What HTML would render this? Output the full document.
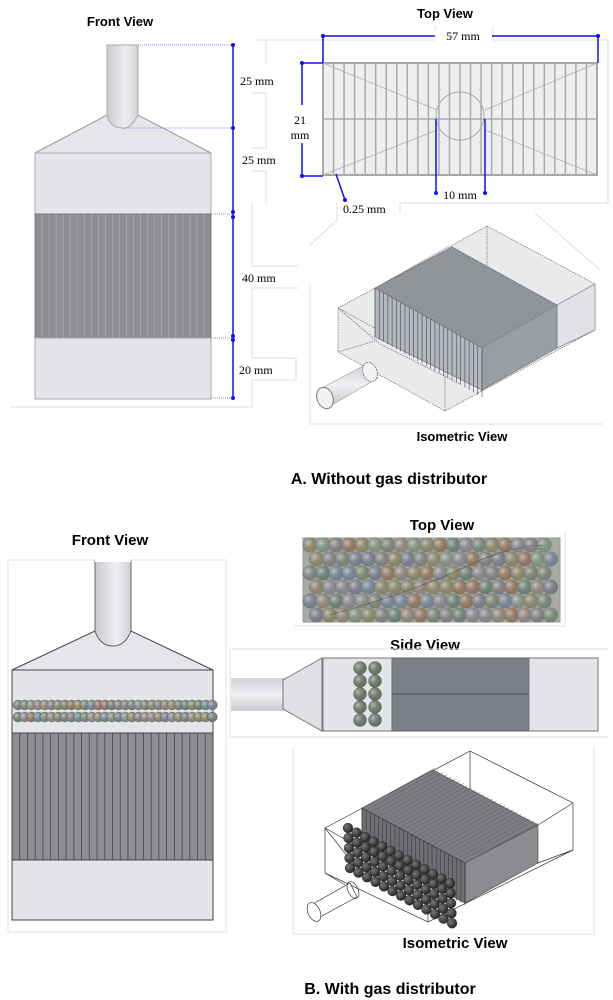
<!DOCTYPE html>
<html><head><meta charset="utf-8">
<style>
html,body{margin:0;padding:0;background:#fff;}
svg{display:block;}
text{font-family:"Liberation Sans",Arial,sans-serif;}
.t{font-weight:bold;font-size:13px;fill:#000;}
.m{font-family:"Liberation Serif",serif;font-size:12px;fill:#000;}
</style></head>
<body>
<svg id="s" width="613" height="1000" viewBox="0 0 613 1000" xmlns="http://www.w3.org/2000/svg">
<defs>
<linearGradient id="pipe" x1="0" x2="1" y1="0" y2="0">
<stop offset="0" stop-color="#c9cbcf"/><stop offset="0.6" stop-color="#eceef1"/><stop offset="1" stop-color="#cfd1d5"/></linearGradient>
<linearGradient id="pipeh" x1="0" x2="0" y1="0" y2="1">
<stop offset="0" stop-color="#d0d2d6"/><stop offset="0.5" stop-color="#eef0f2"/><stop offset="1" stop-color="#c8cacd"/></linearGradient>
<radialGradient id="ball" cx="0.35" cy="0.35" r="0.7"><stop offset="0" stop-color="#ddd" stop-opacity="0.6"/><stop offset="1" stop-color="#000" stop-opacity="0.15"/></radialGradient>
<radialGradient id="dball" cx="0.35" cy="0.35" r="0.7"><stop offset="0" stop-color="#777"/><stop offset="1" stop-color="#222"/></radialGradient>
</defs>

<!-- ===== A Front View ===== -->
<text class="t" x="120" y="26" text-anchor="middle">Front View</text>
<polyline points="255,40 266,40 266,64" fill="none" stroke="#ddd"/>
<polyline points="252,93 266,93 266,148 252,148" fill="none" stroke="#ddd"/>
<polyline points="252,171 266,171 266,203" fill="none" stroke="#ddd"/>
<polyline points="252,203 252,266 298,266" fill="none" stroke="#ddd"/>
<polyline points="298,288 252,288 252,358 296,358 296,380 252,380 252,407 10,407" fill="none" stroke="#ddd"/>
<path d="M35,153 L107,115 L138,115 L211,153 Z" fill="#e4e6ea" stroke="#999"/>
<rect x="35" y="153" width="176" height="61" fill="#e3e5e9" stroke="#aaa"/>
<rect x="35" y="214" width="176" height="124" fill="#8c8e91" stroke="#777"/>
<g id="finsA"></g>
<rect x="35" y="338" width="176" height="61" fill="#e3e5e9" stroke="#aaa"/>
<path d="M107,45 L138,45 L138,115 Q130,130 122,128 Q110,128 107,115 Z" fill="url(#pipe)" stroke="#aaa"/>
<g stroke="#6a6aff" stroke-dasharray="1,1" stroke-width="0.8">
<line x1="138" y1="45" x2="233" y2="45"/><line x1="124" y1="128" x2="233" y2="128"/>
<line x1="211" y1="214" x2="233" y2="214"/><line x1="211" y1="338" x2="233" y2="338"/><line x1="211" y1="398" x2="233" y2="398"/></g>
<line x1="233" y1="45" x2="233" y2="398" stroke="#1010ee" stroke-width="1.5"/>
<g fill="#1010ee"><circle cx="233" cy="45" r="2"/><circle cx="233" cy="128" r="2"/><circle cx="233" cy="212" r="2"/><circle cx="233" cy="217" r="2"/><circle cx="233" cy="336" r="2"/><circle cx="233" cy="340" r="2"/><circle cx="233" cy="398" r="2"/></g>
<text class="m" x="240" y="85">25 mm</text>
<text class="m" x="242" y="164">25 mm</text>
<text class="m" x="242" y="282">40 mm</text>
<text class="m" x="239" y="374">20 mm</text>

<!-- ===== A Top View ===== -->
<text class="t" x="445" y="18" text-anchor="middle">Top View</text>
<polyline points="435,26 435,31" fill="none" stroke="#ddd"/>
<polyline points="266,40 435,40" fill="none" stroke="#ddd"/>
<polyline points="493,26 493,40 608,40 608,203 400,203 400,213" fill="none" stroke="#ddd"/>
<polyline points="337,203 337,220 310,245" fill="none" stroke="#ddd"/>
<line x1="535" y1="213" x2="600" y2="270" stroke="#ddd"/>
<rect x="323" y="63" width="274" height="112" fill="#eceef0" stroke="#a8a8a8" stroke-width="2"/>
<g id="gridA"></g>
<line x1="323" y1="119" x2="597" y2="119" stroke="#a8a8a8" stroke-width="1.5"/>
<g stroke="#aaa" stroke-width="0.7"><line x1="323" y1="63" x2="437" y2="110"/><line x1="323" y1="175" x2="437" y2="130"/><line x1="597" y1="63" x2="485" y2="110"/><line x1="597" y1="175" x2="485" y2="130"/></g>
<circle cx="460" cy="116" r="24" fill="none" stroke="#aaa"/>
<g stroke="#1010ee" stroke-width="1.5" fill="none">
<polyline points="323,63 323,36 435,36"/><polyline points="492,36 598,36 598,63"/>
<polyline points="323,63 302,63 302,105"/><polyline points="302,143 302,176 323,176"/>
<line x1="436" y1="119" x2="436" y2="193"/><line x1="485" y1="119" x2="485" y2="193"/>
<line x1="336" y1="174" x2="345" y2="200"/></g>
<g fill="#1010ee"><circle cx="323" cy="36" r="2"/><circle cx="598" cy="36" r="2"/><circle cx="302" cy="63" r="2"/><circle cx="302" cy="176" r="2"/><circle cx="436" cy="193" r="2"/><circle cx="485" cy="193" r="2"/><circle cx="345" cy="200" r="2"/></g>
<text class="m" x="463" y="40" text-anchor="middle">57 mm</text>
<text class="m" x="300" y="124" text-anchor="middle">21</text>
<text class="m" x="300" y="139" text-anchor="middle">mm</text>
<text class="m" x="460" y="199" text-anchor="middle">10 mm</text>
<text class="m" x="343" y="213">0.25 mm</text>

<!-- ===== A Isometric ===== -->
<polyline points="310,285 310,424 603,424" fill="none" stroke="#ddd"/>
<g stroke="#555" stroke-width="0.6" stroke-dasharray="1.5,1">
<path d="M338,308 L375,288 L487,226 L595,284 L595,330 L445,411 L338,352 Z" fill="#e9eaec"/>
<path d="M487,226 L487,269 M557,305 L595,284 M557,348 L595,330 M338,308 L445,366 L445,411 M338,352 L375,341 M338,308 L380,344 L460,384" fill="none"/>
</g>
<path d="M557,305 L595,284 L595,330 L557,348 Z" fill="#e1e2e5" stroke="#777" stroke-width="0.6"/>
<path d="M375,288 L452,247 L557,305 L482,348 Z" fill="#8f9298" stroke="#666" stroke-width="0.6"/>
<path d="M375,288 L482,348 L482,390 L375,337 Z" fill="#b4b7bc" stroke="#666" stroke-width="0.6"/>
<path d="M482,348 L557,305 L557,348 L482,390 Z" fill="#9a9da2" stroke="#666" stroke-width="0.6"/>
<g id="finsIsoA"></g>
<path d="M318,390 L365,365 L378,378 L332,405 Z" fill="url(#pipeh)" stroke="#999" stroke-width="0.6"/>
<ellipse cx="325" cy="398" rx="8" ry="11" transform="rotate(-20 325 398)" fill="#eef0f2" stroke="#777"/>
<ellipse cx="370" cy="372" rx="7" ry="10" transform="rotate(-20 370 372)" fill="#f2f3f5" stroke="#777" stroke-dasharray="1.5,1"/>
<text class="t" x="462" y="441" text-anchor="middle">Isometric View</text>

<text x="389" y="484" text-anchor="middle" font-weight="bold" font-size="16">A.  Without gas distributor</text>

<!-- ===== B Front View ===== -->
<text x="110" y="545" text-anchor="middle" font-weight="bold" font-size="15">Front View</text>
<rect x="8" y="560" width="218" height="372" fill="none" stroke="#e2e2e2"/>
<path d="M12,670 L95,631 L131,631 L213,670 Z" fill="#e4e6ea" stroke="#444"/>
<rect x="12" y="670" width="201" height="63" fill="#e3e5e9" stroke="#444"/>
<rect x="12" y="733" width="201" height="127" fill="#8c8e91" stroke="#444"/>
<g id="finsB"></g>
<rect x="12" y="860" width="201" height="60" fill="#e3e5e9" stroke="#444"/>
<path d="M95,560 L131,560 L131,631 Q125,646 113,646 Q100,646 95,631 Z" fill="url(#pipe)" stroke="#444" stroke-width="0.8"/>
<rect x="95" y="559" width="36" height="3" fill="#fff"/>
<g id="rowsB"></g>

<!-- ===== B Top View ===== -->
<text x="442" y="530" text-anchor="middle" font-weight="bold" font-size="15">Top View</text>
<polyline points="294,626 565,626 565,533" fill="none" stroke="#e2e2e2"/>
<rect x="303" y="538" width="257" height="84" fill="#a8aaa4" stroke="#999"/>
<g id="ballsB"></g>

<!-- ===== B Side View ===== -->
<text x="425" y="650" text-anchor="middle" font-weight="bold" font-size="15">Side View</text>
<polyline points="608,649 230,649 230,737 608,737" fill="none" stroke="#e2e2e2"/>
<rect x="231" y="678" width="54" height="33" fill="url(#pipeh)"/>
<path d="M322,658 L283,680 L283,709 L322,731 Z" fill="#dfe0e3" stroke="#777"/>
<rect x="323" y="658" width="69" height="73" fill="#e3e5e9" stroke="#777"/>
<rect x="392" y="658" width="137" height="73" fill="#7b8088" stroke="#666"/>
<line x1="392" y1="694" x2="529" y2="694" stroke="#555"/>
<rect x="529" y="658" width="69" height="73" fill="#e3e5e9" stroke="#777"/>
<g id="colsB"></g>

<!-- ===== B Isometric ===== -->
<polyline points="293,748 293,934 594,934 594,748" fill="none" stroke="#e2e2e2"/>
<g stroke="#333" stroke-width="0.7" fill="none">
<path d="M325,828 L470,751 L573,803 L573,850 L428,922 L325,873 Z" fill="#fff"/>
<path d="M325,828 L428,886 L428,922 M470,751 L470,796 M538,825 L573,803 M538,863 L573,850 M325,873 L345,885 M325,828 L355,866 L445,905"/>
</g>
<path d="M362,808 L433,770 L538,825 L465,863 Z" fill="#7c7e82" stroke="#444" stroke-width="0.6"/>
<path d="M465,863 L538,825 L538,863 L465,903 Z" fill="#8a8c90" stroke="#444" stroke-width="0.6"/>
<path d="M362,808 L465,863 L465,903 L362,850 Z" fill="#6c6e72" stroke="#333" stroke-width="0.6"/>
<g id="isoB"></g>
<path d="M311,905 L350,883 L357,897 L318,918 Z" fill="#fff" stroke="#333" stroke-width="0.7"/>
<ellipse cx="314" cy="912" rx="6" ry="10" transform="rotate(-25 314 912)" fill="#fff" stroke="#333" stroke-width="0.7"/>
<ellipse cx="353" cy="890" rx="5" ry="9" transform="rotate(-25 353 890)" fill="none" stroke="#333" stroke-width="0.7"/>
<text x="455" y="948" text-anchor="middle" font-weight="bold" font-size="15">Isometric View</text>

<text x="390" y="994" text-anchor="middle" font-weight="bold" font-size="16">B.  With gas distributor</text>
</svg>
<script>
var NS="http://www.w3.org/2000/svg";
function el(p,t,a){var e=document.createElementNS(NS,t);for(var k in a)e.setAttribute(k,a[k]);document.getElementById(p).appendChild(e);return e;}
for(var i=1;i<25;i++){var x=35+i*176/25;el("finsA","line",{x1:x,y1:214,x2:x,y2:338,stroke:"#a9abae","stroke-width":0.8});}
for(var i=1;i<26;i++){var x=12+i*201/26;el("finsB","line",{x1:x,y1:733,x2:x,y2:860,stroke:"#444","stroke-width":0.8});}
for(var i=1;i<26;i++){var x=323+i*274/26;el("gridA","line",{x1:x,y1:63,x2:x,y2:175,stroke:"#aaa","stroke-width":1.5});}
for(var i=0;i<26;i++){var t=i/25;var x1=375+t*107,y1=288+t*60;el("finsIsoA","line",{x1:x1,y1:y1,x2:x1,y2:y1+49,stroke:"#556","stroke-width":0.7});el("finsIsoA","line",{x1:x1,y1:y1,x2:x1+75,y2:y1-43,stroke:"#a0a3a8","stroke-width":0.4});}
var cols=["#8fa08a","#9a9a9a","#b08d6e","#8aa0b4","#a7a27a","#9bb09a","#a3a3ad","#7f9a8a","#b0a090","#8e96a8"];
var s=7;function rnd(){s=(s*9301+49297)%233280;return s/233280;}
for(var r=0;r<6;r++)for(var c=0;c<20;c++){var cx=310+c*13+(r%2)*6.5,cy=545+r*14;if(cx>556)continue;el("ballsB","circle",{cx:cx,cy:cy,r:7.3,fill:cols[Math.floor(rnd()*10)],stroke:"#777","stroke-width":0.5});el("ballsB","circle",{cx:cx,cy:cy,r:7.3,fill:"url(#ball)"});}
el("ballsB","path",{d:"M330,615 Q420,590 480,560 Q520,545 545,545",fill:"none",stroke:"#555","stroke-width":0.6});
for(var k=0;k<2;k++){var y=k?717:705;for(var i=0;i<30;i++){var x=18+i*6.7;el("rowsB","circle",{cx:x,cy:y,r:5,fill:cols[Math.floor(rnd()*10)],stroke:"#555","stroke-width":0.4});el("rowsB","circle",{cx:x,cy:y,r:5,fill:"url(#ball)"});}}
for(var k=0;k<2;k++){var x=k?375:360;for(var i=0;i<5;i++){var y=668+i*13;el("colsB","circle",{cx:x,cy:y,r:6.5,fill:"#7e8878",stroke:"#555","stroke-width":0.4});el("colsB","circle",{cx:x,cy:y,r:6.5,fill:"url(#ball)"});}}
for(var i=0;i<26;i++){var t=i/25;var x=362+t*103,y=808+t*55;el("isoB","line",{x1:x,y1:y,x2:x,y2:y+42,stroke:"#333","stroke-width":0.5});el("isoB","line",{x1:x,y1:y,x2:x+73,y2:y-40,stroke:"#555","stroke-width":0.4});}
for(var r=0;r<5;r++)for(var c=0;c<13;c++){var x=348+c*8.5+r*0.5,y=828+c*4.6+r*10;el("isoB","circle",{cx:x,cy:y,r:5,fill:"url(#dball)",stroke:"#111","stroke-width":0.3});}
</script>
</body></html>
